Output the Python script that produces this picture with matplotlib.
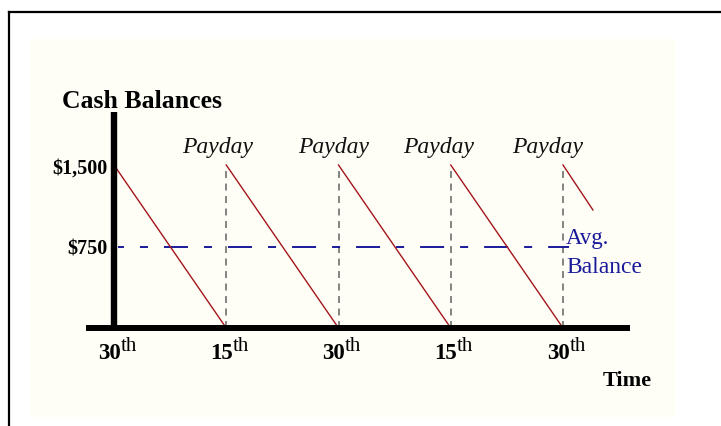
import matplotlib
matplotlib.use("Agg")
import matplotlib.pyplot as plt
from matplotlib.patches import Rectangle
from matplotlib.lines import Line2D

plt.rcParams['lines.scale_dashes'] = False

# ---- data ----
pay_days = [0, 15, 30, 45, 60]            # days since first 30th
day_numbers = ["30", "15", "30", "15", "30"]
day_suffix = "th"
peak_balance = 1500
end_balance = 0
partial_end_day = 64.0
partial_end_balance = 1086
avg_balance = 750
y_ticks = [750, 1500]
y_tick_labels = ["$750", "$1,500"]
payday_label_days = [13.9, 29.3, 43.4, 57.9]

W, H = 721, 427
fig = plt.figure(figsize=(W / 100, H / 100), dpi=100)
fig.patch.set_facecolor("white")

# border and ivory panel
fig.add_artist(Rectangle((30 / W, 1 - 418 / H), (675 - 30) / W, (418 - 40) / H,
                         transform=fig.transFigure, facecolor="#fefef6", edgecolor="none", zorder=0))
fig.add_artist(Line2D([9 / W, 9 / W], [0, 1 - 13 / H], transform=fig.transFigure, color="black", lw=1.6))
fig.add_artist(Line2D([9 / W, 1], [1 - 13 / H, 1 - 13 / H], transform=fig.transFigure, color="black", lw=1.6))

# axes geometry (pixels)
X0, X60 = 114, 563
Y0, Y1500 = 329, 166
px_per_day = (X60 - X0) / 60.0
px_per_unit = (Y0 - Y1500) / 1500.0
left_px, right_px, top_px = 86, 630, 113
xmin = -(X0 - left_px) / px_per_day
xmax = (right_px - X0) / px_per_day
ymax = (Y0 - top_px) / px_per_unit
ax = fig.add_axes([left_px / W, 1 - Y0 / H, (right_px - left_px) / W, (Y0 - top_px) / H])
ax.set_xlim(xmin, xmax)
ax.set_ylim(0, ymax)
ax.patch.set_alpha(0)
for s in ["top", "right"]:
    ax.spines[s].set_visible(False)
ax.spines["left"].set_position(("data", 0))
ax.spines["left"].set_linewidth(4.6)
ax.spines["bottom"].set_linewidth(4.3)
for s in ["left", "bottom"]:
    ax.spines[s].set_capstyle("butt")
    ax.spines[s].set_zorder(5)

# sawtooth balance
red = "#a3161c"
for i in range(len(pay_days) - 1):
    ax.plot([pay_days[i], pay_days[i + 1]], [peak_balance, end_balance],
            color=red, lw=1.0, zorder=3)
ax.plot([pay_days[-1], partial_end_day], [peak_balance, partial_end_balance],
        color=red, lw=1.0, zorder=3)

# payday dashed verticals + labels
for d in pay_days[1:]:
    ax.plot([d, d], [0, 1445], color="#6e6e6e", lw=1.2, linestyle=(0, (5, 4)), zorder=2)
for xd in payday_label_days:
    ax.text(xd, 1666, "Payday", ha="center", va="center", fontsize=17,
            family="Liberation Serif", style="italic", color="#111111")

# average balance line (long dash / short dash pattern)
blue = "#1a1a9a"
ax.plot([0.5, 60.8], [avg_balance, avg_balance], color=blue, lw=1.4,
        linestyle=(13, (17.3, 11.5, 5.8, 11.5)), zorder=2)
ax.text(60.4, 837, "Avg.", ha="left", va="center", fontsize=16.5,
        family="Liberation Serif", color=blue)
ax.text(60.4, 570, "Balance", ha="left", va="center", fontsize=17,
        family="Liberation Serif", color=blue)

# x ticks: bold number with superscript suffix
ax.set_xticks(pay_days)
ax.set_xticklabels([])
ax.tick_params(axis="x", length=0)
for d, num in zip(pay_days, day_numbers):
    ax.annotate(num, xy=(d, 0), xycoords="data", xytext=(4.6, -21.3),
                textcoords="offset points", ha="right", va="baseline",
                fontsize=16.5, family="Liberation Serif", weight="bold")
    ax.annotate(day_suffix, xy=(d, 0), xycoords="data", xytext=(4.6, -15.6),
                textcoords="offset points", ha="left", va="baseline",
                fontsize=15, family="Liberation Serif")

ax.set_yticks(y_ticks)
ax.set_yticklabels(y_tick_labels, fontsize=14.5, family="Liberation Serif", weight="bold")
ax.tick_params(axis="y", length=0, pad=4.5)

fig.text(62 / W, 1 - 101 / H, "Cash Balances", ha="left", va="center", fontsize=18.5,
         family="Liberation Serif", weight="bold")
fig.text(603 / W, 1 - 381 / H, "Time", ha="left", va="center", fontsize=16,
         family="Liberation Serif", weight="bold")

fig.savefig("out.png", dpi=100)
